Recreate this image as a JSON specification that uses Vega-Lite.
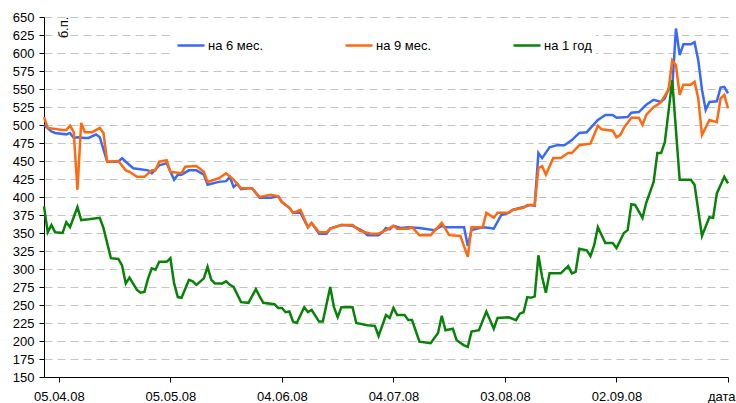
{
  "$schema": "https://vega.github.io/schema/vega-lite/v6.json",
  "width": 684,
  "height": 360,
  "autosize": {"type": "none"},
  "padding": {"left": 44, "top": 17, "right": 8, "bottom": 26},
  "background": "white",
  "config": {
    "view": {"stroke": null},
    "font": "Liberation Sans",
    "axis": {"labelFont": "Liberation Sans", "labelFontSize": 13, "labelColor": "black", "domainColor": "black", "tickColor": "black", "titleFont": "Liberation Sans"},
    "legend": {"labelFont": "Liberation Sans"}
  },
  "datasets": {
    "b": [
      {"date":"2008-04-01","v":500},{"date":"2008-04-03","v":491},{"date":"2008-04-04","v":489},{"date":"2008-04-07","v":487},{"date":"2008-04-08","v":489},{"date":"2008-04-09","v":482},{"date":"2008-04-10","v":483},{"date":"2008-04-12","v":482},{"date":"2008-04-13","v":482},{"date":"2008-04-15","v":487},{"date":"2008-04-16","v":483},{"date":"2008-04-18","v":449},{"date":"2008-04-21","v":449},{"date":"2008-04-22","v":454},{"date":"2008-04-23","v":449},{"date":"2008-04-25","v":440},{"date":"2008-04-29","v":437},{"date":"2008-04-30","v":433},
      {"date":"2008-05-02","v":444},{"date":"2008-05-04","v":447},{"date":"2008-05-06","v":424},{"date":"2008-05-07","v":431},{"date":"2008-05-08","v":431},{"date":"2008-05-10","v":437},{"date":"2008-05-12","v":437},{"date":"2008-05-14","v":431},{"date":"2008-05-15","v":417},{"date":"2008-05-18","v":421},{"date":"2008-05-20","v":422},{"date":"2008-05-21","v":428},{"date":"2008-05-22","v":414},{"date":"2008-05-23","v":418},{"date":"2008-05-24","v":411},{"date":"2008-05-26","v":412},{"date":"2008-05-27","v":412},{"date":"2008-05-29","v":399},
      {"date":"2008-06-01","v":399},{"date":"2008-06-03","v":401},{"date":"2008-06-04","v":393},{"date":"2008-06-06","v":385},{"date":"2008-06-07","v":378},{"date":"2008-06-09","v":378},{"date":"2008-06-11","v":358},{"date":"2008-06-12","v":364},{"date":"2008-06-14","v":349},{"date":"2008-06-16","v":349},{"date":"2008-06-17","v":356},{"date":"2008-06-20","v":361},{"date":"2008-06-23","v":360},{"date":"2008-06-26","v":352},{"date":"2008-06-27","v":347},{"date":"2008-06-30","v":347},
      {"date":"2008-07-01","v":351},{"date":"2008-07-02","v":357},{"date":"2008-07-03","v":355},{"date":"2008-07-04","v":360},{"date":"2008-07-06","v":357},{"date":"2008-07-08","v":358},{"date":"2008-07-11","v":357},{"date":"2008-07-15","v":354},{"date":"2008-07-17","v":360},{"date":"2008-07-18","v":358},{"date":"2008-07-22","v":358},{"date":"2008-07-23","v":358},{"date":"2008-07-24","v":332},{"date":"2008-07-25","v":354},{"date":"2008-07-28","v":358},{"date":"2008-07-30","v":357},{"date":"2008-07-31","v":356},
      {"date":"2008-08-02","v":375},{"date":"2008-08-04","v":378},{"date":"2008-08-05","v":382},{"date":"2008-08-08","v":386},{"date":"2008-08-10","v":389},{"date":"2008-08-11","v":388},{"date":"2008-08-12","v":461},{"date":"2008-08-13","v":454},{"date":"2008-08-15","v":469},{"date":"2008-08-17","v":472},{"date":"2008-08-19","v":472},{"date":"2008-08-21","v":479},{"date":"2008-08-23","v":489},{"date":"2008-08-25","v":490},{"date":"2008-08-28","v":507},{"date":"2008-08-30","v":514},
      {"date":"2008-09-01","v":514},{"date":"2008-09-02","v":510},{"date":"2008-09-05","v":511},{"date":"2008-09-06","v":517},{"date":"2008-09-08","v":518},{"date":"2008-09-10","v":528},{"date":"2008-09-12","v":535},{"date":"2008-09-14","v":532},{"date":"2008-09-15","v":537},{"date":"2008-09-16","v":550},{"date":"2008-09-17","v":552},{"date":"2008-09-18","v":634},{"date":"2008-09-19","v":597},{"date":"2008-09-20","v":612},{"date":"2008-09-22","v":612},{"date":"2008-09-23","v":615},{"date":"2008-09-24","v":590},{"date":"2008-09-25","v":549},{"date":"2008-09-26","v":521},{"date":"2008-09-27","v":532},{"date":"2008-09-29","v":533},{"date":"2008-09-30","v":552},{"date":"2008-10-01","v":553},{"date":"2008-10-02","v":544}
    ],
    "o": [
      {"date":"2008-04-01","v":511},{"date":"2008-04-02","v":496},{"date":"2008-04-06","v":493},{"date":"2008-04-07","v":493},{"date":"2008-04-08","v":499},{"date":"2008-04-09","v":490},{"date":"2008-04-10","v":410},{"date":"2008-04-11","v":503},{"date":"2008-04-12","v":490},{"date":"2008-04-14","v":490},{"date":"2008-04-16","v":496},{"date":"2008-04-17","v":489},{"date":"2008-04-18","v":449},{"date":"2008-04-21","v":450},{"date":"2008-04-23","v":437},{"date":"2008-04-24","v":435},{"date":"2008-04-26","v":428},{"date":"2008-04-28","v":428},{"date":"2008-04-30","v":437},
      {"date":"2008-05-01","v":437},{"date":"2008-05-02","v":449},{"date":"2008-05-04","v":451},{"date":"2008-05-05","v":435},{"date":"2008-05-08","v":433},{"date":"2008-05-09","v":442},{"date":"2008-05-12","v":443},{"date":"2008-05-14","v":435},{"date":"2008-05-15","v":421},{"date":"2008-05-18","v":426},{"date":"2008-05-20","v":433},{"date":"2008-05-22","v":424},{"date":"2008-05-24","v":412},{"date":"2008-05-27","v":412},{"date":"2008-05-29","v":400},
      {"date":"2008-06-01","v":403},{"date":"2008-06-03","v":401},{"date":"2008-06-04","v":393},{"date":"2008-06-06","v":385},{"date":"2008-06-07","v":378},{"date":"2008-06-09","v":382},{"date":"2008-06-11","v":358},{"date":"2008-06-12","v":364},{"date":"2008-06-14","v":351},{"date":"2008-06-16","v":351},{"date":"2008-06-17","v":356},{"date":"2008-06-20","v":361},{"date":"2008-06-23","v":361},{"date":"2008-06-25","v":353},{"date":"2008-06-28","v":349},{"date":"2008-06-30","v":349},
      {"date":"2008-07-02","v":354},{"date":"2008-07-04","v":360},{"date":"2008-07-05","v":356},{"date":"2008-07-08","v":356},{"date":"2008-07-09","v":358},{"date":"2008-07-11","v":347},{"date":"2008-07-14","v":347},{"date":"2008-07-17","v":364},{"date":"2008-07-19","v":347},{"date":"2008-07-22","v":346},{"date":"2008-07-24","v":317},{"date":"2008-07-25","v":358},{"date":"2008-07-28","v":358},{"date":"2008-07-29","v":378},{"date":"2008-07-31","v":371},
      {"date":"2008-08-01","v":378},{"date":"2008-08-04","v":378},{"date":"2008-08-05","v":382},{"date":"2008-08-08","v":385},{"date":"2008-08-09","v":389},{"date":"2008-08-11","v":389},{"date":"2008-08-12","v":440},{"date":"2008-08-13","v":443},{"date":"2008-08-14","v":431},{"date":"2008-08-16","v":454},{"date":"2008-08-18","v":454},{"date":"2008-08-20","v":461},{"date":"2008-08-21","v":461},{"date":"2008-08-23","v":472},{"date":"2008-08-26","v":474},{"date":"2008-08-28","v":499},{"date":"2008-08-29","v":494},
      {"date":"2008-09-01","v":492},{"date":"2008-09-02","v":483},{"date":"2008-09-03","v":486},{"date":"2008-09-04","v":496},{"date":"2008-09-06","v":510},{"date":"2008-09-08","v":510},{"date":"2008-09-09","v":500},{"date":"2008-09-10","v":514},{"date":"2008-09-12","v":525},{"date":"2008-09-13","v":528},{"date":"2008-09-14","v":532},{"date":"2008-09-16","v":549},{"date":"2008-09-17","v":590},{"date":"2008-09-18","v":583},{"date":"2008-09-19","v":542},{"date":"2008-09-20","v":556},{"date":"2008-09-22","v":556},{"date":"2008-09-23","v":560},{"date":"2008-09-24","v":537},{"date":"2008-09-25","v":486},{"date":"2008-09-27","v":507},{"date":"2008-09-29","v":504},{"date":"2008-09-30","v":537},{"date":"2008-10-01","v":542},{"date":"2008-10-02","v":523}
    ],
    "g": [
      {"date":"2008-04-01","v":387},{"date":"2008-04-02","v":351},{"date":"2008-04-03","v":361},{"date":"2008-04-04","v":351},{"date":"2008-04-06","v":350},{"date":"2008-04-07","v":365},{"date":"2008-04-08","v":358},{"date":"2008-04-10","v":386},{"date":"2008-04-11","v":368},{"date":"2008-04-13","v":369},{"date":"2008-04-16","v":371},{"date":"2008-04-17","v":357},{"date":"2008-04-18","v":336},{"date":"2008-04-19","v":315},{"date":"2008-04-21","v":314},{"date":"2008-04-22","v":305},{"date":"2008-04-23","v":280},{"date":"2008-04-24","v":288},{"date":"2008-04-26","v":271},{"date":"2008-04-27","v":267},{"date":"2008-04-28","v":268},{"date":"2008-04-29","v":287},{"date":"2008-04-30","v":301},
      {"date":"2008-05-01","v":299},{"date":"2008-05-02","v":310},{"date":"2008-05-04","v":310},{"date":"2008-05-05","v":315},{"date":"2008-05-06","v":280},{"date":"2008-05-07","v":261},{"date":"2008-05-08","v":260},{"date":"2008-05-10","v":285},{"date":"2008-05-11","v":283},{"date":"2008-05-12","v":278},{"date":"2008-05-14","v":287},{"date":"2008-05-15","v":303},{"date":"2008-05-16","v":285},{"date":"2008-05-17","v":280},{"date":"2008-05-19","v":280},{"date":"2008-05-20","v":283},{"date":"2008-05-21","v":278},{"date":"2008-05-22","v":275},{"date":"2008-05-24","v":254},{"date":"2008-05-26","v":253},{"date":"2008-05-28","v":272},{"date":"2008-05-29","v":262},{"date":"2008-05-30","v":253},
      {"date":"2008-06-02","v":251},{"date":"2008-06-03","v":246},{"date":"2008-06-04","v":246},{"date":"2008-06-05","v":240},{"date":"2008-06-06","v":241},{"date":"2008-06-07","v":227},{"date":"2008-06-08","v":225},{"date":"2008-06-10","v":247},{"date":"2008-06-11","v":240},{"date":"2008-06-12","v":243},{"date":"2008-06-14","v":227},{"date":"2008-06-15","v":227},{"date":"2008-06-17","v":275},{"date":"2008-06-18","v":247},{"date":"2008-06-19","v":233},{"date":"2008-06-20","v":247},{"date":"2008-06-23","v":247},{"date":"2008-06-24","v":225},{"date":"2008-06-27","v":222},{"date":"2008-06-29","v":221},{"date":"2008-06-30","v":207},
      {"date":"2008-07-02","v":236},{"date":"2008-07-03","v":232},{"date":"2008-07-04","v":246},{"date":"2008-07-05","v":236},{"date":"2008-07-07","v":236},{"date":"2008-07-08","v":229},{"date":"2008-07-09","v":229},{"date":"2008-07-11","v":199},{"date":"2008-07-14","v":197},{"date":"2008-07-16","v":211},{"date":"2008-07-17","v":235},{"date":"2008-07-18","v":215},{"date":"2008-07-20","v":217},{"date":"2008-07-21","v":201},{"date":"2008-07-23","v":194},{"date":"2008-07-24","v":192},{"date":"2008-07-25","v":213},{"date":"2008-07-27","v":215},{"date":"2008-07-29","v":241},{"date":"2008-07-30","v":229},{"date":"2008-07-31","v":217},
      {"date":"2008-08-01","v":232},{"date":"2008-08-04","v":233},{"date":"2008-08-06","v":229},{"date":"2008-08-07","v":238},{"date":"2008-08-08","v":240},{"date":"2008-08-09","v":261},{"date":"2008-08-10","v":260},{"date":"2008-08-11","v":262},{"date":"2008-08-12","v":319},{"date":"2008-08-13","v":289},{"date":"2008-08-14","v":267},{"date":"2008-08-15","v":294},{"date":"2008-08-18","v":294},{"date":"2008-08-20","v":304},{"date":"2008-08-21","v":294},{"date":"2008-08-22","v":296},{"date":"2008-08-23","v":328},{"date":"2008-08-25","v":326},{"date":"2008-08-26","v":318},{"date":"2008-08-27","v":333},{"date":"2008-08-28","v":358},{"date":"2008-08-30","v":336},
      {"date":"2008-09-01","v":336},{"date":"2008-09-02","v":329},{"date":"2008-09-04","v":350},{"date":"2008-09-05","v":354},{"date":"2008-09-06","v":390},{"date":"2008-09-07","v":389},{"date":"2008-09-09","v":371},{"date":"2008-09-10","v":392},{"date":"2008-09-12","v":421},{"date":"2008-09-13","v":461},{"date":"2008-09-14","v":461},{"date":"2008-09-15","v":476},{"date":"2008-09-17","v":562},{"date":"2008-09-19","v":424},{"date":"2008-09-22","v":424},{"date":"2008-09-23","v":417},{"date":"2008-09-25","v":346},{"date":"2008-09-27","v":372},{"date":"2008-09-28","v":371},{"date":"2008-09-29","v":405},{"date":"2008-10-01","v":428},{"date":"2008-10-02","v":419}
    ]
  },
  "encoding": {
    "x": {
      "field": "date", "type": "temporal",
      "scale": {"type": "utc", "domain": [{"year": 2008, "month": 4, "date": 1, "utc": true}, {"year": 2008, "month": 10, "date": 2, "utc": true}]},
      "axis": {
        "title": null, "grid": false, "tickSize": 5, "labelPadding": 8, "labelOverlap": false, "labelFlush": false, "labelBound": false,
        "values": [
          {"year": 2008, "month": 4, "date": 5, "utc": true},
          {"year": 2008, "month": 5, "date": 5, "utc": true},
          {"year": 2008, "month": 6, "date": 4, "utc": true},
          {"year": 2008, "month": 7, "date": 4, "utc": true},
          {"year": 2008, "month": 8, "date": 3, "utc": true},
          {"year": 2008, "month": 9, "date": 2, "utc": true},
          {"year": 2008, "month": 10, "date": 2, "utc": true}
        ],
        "labelAlign": {"condition": {"test": "utcmonth(datum.value) == 9", "value": "right"}, "value": "center"},
        "labelOffset": {"condition": {"test": "utcmonth(datum.value) == 9", "value": 7}, "value": 0},
        "labelExpr": "utcmonth(datum.value) == 9 ? 'дата' : utcFormat(datum.value, '%d.%m.%y')"
      }
    },
    "y": {
      "field": "v", "type": "quantitative",
      "scale": {"domain": [150, 650], "nice": false, "zero": false},
      "axis": {
        "values": [150,175,200,225,250,275,300,325,350,375,400,425,450,475,500,525,550,575,600,625,650],
        "tickSize": 5, "labelPadding": 5, "labelOverlap": false,
        "grid": true, "gridDash": [8, 5], "gridColor": "#c4c4c4", "gridWidth": 1,
        "title": "б.п.", "titleAngle": -90, "titleX": 19, "titleY": 10, "titleAlign": "center", "titleBaseline": "middle",
        "titleFontSize": 13, "titleFontWeight": "normal", "titleColor": "black"
      }
    },
    "color": {
      "type": "nominal",
      "scale": {"domain": ["на 6 мес.", "на 9 мес.", "на 1 год"], "range": ["#3a6af5", "#ff6a10", "#0a820a"]},
      "legend": {
        "title": null, "orient": "none", "legendX": 128, "legendY": 9.5, "direction": "horizontal",
        "columns": 3, "gridAlign": "all", "columnPadding": 76,
        "fillColor": "white", "padding": 4,
        "symbolType": "stroke", "symbolSize": 729, "symbolStrokeWidth": 2.5, "labelFontSize": 13, "labelColor": "black", "labelOffset": 2
      }
    }
  },
  "layer": [
    {"data": {"name": "b"}, "mark": {"type": "line", "strokeWidth": 2.5}, "encoding": {"color": {"datum": "на 6 мес."}}},
    {"data": {"name": "o"}, "mark": {"type": "line", "strokeWidth": 2.5}, "encoding": {"color": {"datum": "на 9 мес."}}},
    {"data": {"name": "g"}, "mark": {"type": "line", "strokeWidth": 2.5}, "encoding": {"color": {"datum": "на 1 год"}}}
  ]
}
